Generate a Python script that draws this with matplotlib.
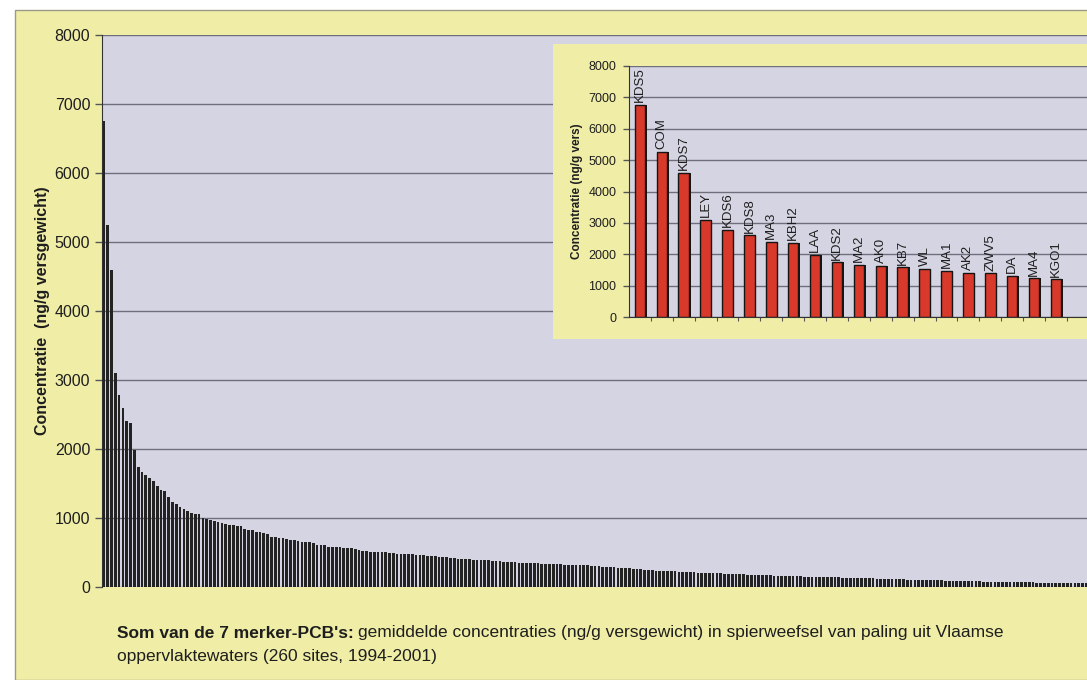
import matplotlib

matplotlib.use("Agg")

import matplotlib.pyplot as plt
import numpy as np
from matplotlib.patches import Rectangle

# mean PCB concentration per site (ng/g), sorted high to low, 260 sites
site_values = [
    6750, 5250, 4600, 3100, 2780, 2600, 2400, 2370, 1980, 1740,
    1670, 1620, 1580, 1530, 1470, 1400, 1390, 1310, 1230, 1200,
    1160, 1130, 1100, 1070, 1060, 1060, 1000, 985, 970, 955,
    940, 925, 920, 900, 895, 885, 880, 845, 830, 825,
    800, 800, 780, 765, 730, 727, 710, 705, 700, 680,
    675, 670, 655, 655, 650, 640, 615, 612, 605, 580,
    578, 575, 575, 565, 562, 560, 545, 540, 525, 520,
    512, 510, 508, 505, 502, 495, 492, 485, 483, 482,
    480, 478, 470, 465, 462, 455, 450, 445, 438, 430,
    428, 422, 418, 412, 408, 405, 400, 398, 392, 390,
    388, 385, 380, 378, 372, 368, 365, 362, 358, 355,
    352, 350, 348, 345, 342, 340, 338, 335, 332, 330,
    328, 326, 325, 322, 320, 318, 315, 312, 310, 305,
    300, 295, 290, 288, 285, 280, 278, 275, 270, 265,
    260, 255, 250, 245, 240, 238, 235, 232, 230, 228,
    225, 222, 220, 218, 215, 212, 210, 208, 205, 202,
    200, 198, 196, 194, 192, 190, 188, 185, 182, 180,
    178, 176, 175, 172, 170, 168, 166, 165, 163, 162,
    160, 158, 156, 155, 152, 150, 148, 146, 145, 143,
    142, 140, 139, 138, 136, 135, 134, 132, 131, 130,
    128, 126, 124, 122, 120, 118, 116, 115, 113, 112,
    110, 108, 106, 105, 103, 102, 100, 98, 97, 96,
    95, 93, 92, 90, 89, 88, 86, 85, 84, 82,
    80, 79, 78, 77, 76, 75, 74, 73, 72, 71,
    70, 69, 68, 67, 66, 65, 64, 63, 62, 61,
    60, 59, 58, 57, 56, 55, 54, 53, 52, 51,
]

# the 20 highest sites, shown in the inset
top_sites = [
    "KDS5", "COM", "KDS7", "LEY", "KDS6", "KDS8", "MA3", "KBH2", "LAA", "KDS2",
    "MA2", "AK0", "KB7", "WL", "MA1", "AK2", "ZWV5", "DA", "MA4", "KGO1",
]
top_values = [
    6750, 5250, 4600, 3100, 2780, 2600, 2400, 2370, 1980, 1740,
    1670, 1620, 1580, 1530, 1470, 1400, 1390, 1310, 1230, 1200,
]
y_ticks = [0, 1000, 2000, 3000, 4000, 5000, 6000, 7000, 8000]

YELLOW = "#F0EEA6"
PLOT_BG = "#D5D4E2"
GRID = "#6E6E7C"
BAR_RED = "#D8392A"
TEXT = "#1E1E1E"

plt.rcParams["font.family"] = ["Liberation Sans", "DejaVu Sans"]

W, H = 1087, 680
fig = plt.figure(figsize=(W / 100, H / 100), dpi=100)
fig.patch.set_facecolor("white")


def box(x0, y0, x1, y1):
    """Pixel box (y measured from top) -> figure fraction rect."""
    return [x0 / W, 1 - y1 / H, (x1 - x0) / W, (y1 - y0) / H]


# yellow panel behind everything
fig.add_artist(Rectangle((15 / W, 0), 1, 1 - 10 / H, transform=fig.transFigure,
                         facecolor=YELLOW, edgecolor="#9A9A86", lw=1, zorder=-1))

# main chart
ax = fig.add_axes(box(102, 35, 1092, 587))
ax.set_facecolor(PLOT_BG)
x = np.arange(len(site_values))
ax.bar(x, site_values, width=0.7, color="#232323", edgecolor="none", zorder=2)
ax.set_xlim(-0.5, len(site_values) - 0.5)
ax.set_ylim(0, 8000)
ax.set_yticks(y_ticks)
ax.set_xticks([])
ax.grid(axis="y", color=GRID, lw=1, zorder=1)
ax.tick_params(axis="y", length=5, width=1, color="#555555", pad=3.5,
               labelsize=11.5, labelcolor=TEXT)
for side in ["top", "right", "bottom"]:
    ax.spines[side].set_visible(False)
ax.spines["left"].set_color("#333333")
ax.set_ylabel("Concentratie  (ng/g versgewicht)", fontsize=11.5,
              fontweight="bold", color=TEXT, labelpad=3)

# inset panel with the 20 highest sites
fig.add_artist(Rectangle((553 / W, 1 - 339 / H), 1, (339 - 44) / H,
                         transform=fig.transFigure, facecolor=YELLOW,
                         edgecolor="none", zorder=2))
ax2 = fig.add_axes(box(629, 66, 1095, 317))
ax2.set_zorder(3)
ax2.set_facecolor(PLOT_BG)
xi = np.arange(len(top_values))
# dark shadow on the right side of each bar
ax2.bar(xi + 0.07, top_values, width=0.48, color="#151515", edgecolor="none",
        zorder=2)
ax2.bar(xi, top_values, width=0.48, color=BAR_RED, edgecolor="#151515",
        lw=1.0, zorder=2.5)
for xv, val, name in zip(xi, top_values, top_sites):
    ax2.text(xv, val + 90, name, rotation=90, ha="center", va="bottom",
             fontsize=9.5, color=TEXT, zorder=3)
ax2.set_xlim(-0.5, 20.78)
ax2.set_ylim(0, 8000)
ax2.set_yticks(y_ticks)
ax2.set_xticks(np.arange(len(top_values)) + 0.5)
ax2.set_xticklabels([])
ax2.tick_params(axis="x", length=3, color="#555555")
ax2.grid(axis="y", color=GRID, lw=1, zorder=1)
ax2.tick_params(axis="y", length=4, width=1, color="#555555", pad=5,
                labelsize=9, labelcolor=TEXT)
for side in ["top", "right"]:
    ax2.spines[side].set_visible(False)
ax2.spines["left"].set_color("#333333")
ax2.spines["bottom"].set_color("#333333")
ax2.set_ylabel("Concentratie (ng/g vers)", fontsize=8.5, fontweight="bold",
               color=TEXT, labelpad=4)

# caption: bold lead-in followed by regular text
cap_y1 = 1 - 633 / H
cap_y2 = 1 - 656 / H
lead = fig.text(117 / W, cap_y1, "Som van de 7 merker-PCB's:", fontsize=12.5,
                fontweight="bold", color=TEXT, va="center")
fig.canvas.draw()
bb = lead.get_window_extent()
fig.text(bb.x1 / W + 4 / W, cap_y1,
         "gemiddelde concentraties (ng/g versgewicht) in spierweefsel van paling uit Vlaamse",
         fontsize=12.5, color=TEXT, va="center")
fig.text(117 / W, cap_y2, "oppervlaktewaters (260 sites, 1994-2001)",
         fontsize=12.5, color=TEXT, va="center")

fig.savefig("out.png", dpi=100, facecolor=fig.get_facecolor())
plt.close(fig)
